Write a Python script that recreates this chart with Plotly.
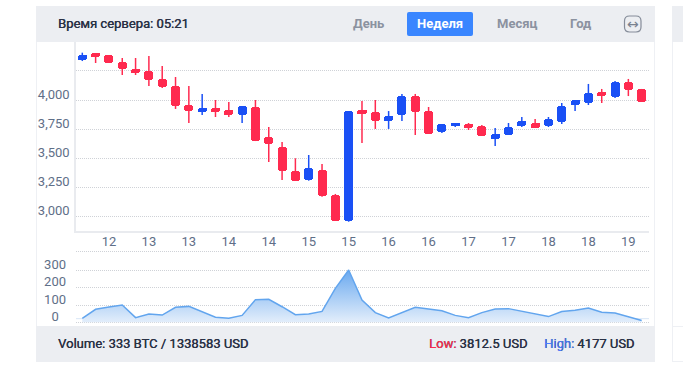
import plotly.graph_objects as go

W, H = 683, 383

# ---- data ----
opens = [4347, 4404, 4387, 4327, 4267, 4249, 4181, 4120, 3957, 3899, 3931, 3914, 3871, 3940, 3682, 3593, 3387, 3312, 3398, 3183, 2959,
         3914, 3897, 3819, 3871, 4034, 3905, 3725, 3776, 3794, 3776, 3665, 3699, 3776, 3802, 3776, 3811, 3957, 3974, 4069, 4026, 4155, 4095]
closes = [4387, 4372, 4321, 4269, 4232, 4172, 4112, 3948, 3908, 3931, 3899, 3871, 3948, 3650, 3622, 3392, 3306, 3413, 3174, 2962, 3905,
          3880, 3819, 3862, 4034, 3897, 3708, 3794, 3802, 3759, 3690, 3708, 3768, 3819, 3759, 3837, 3948, 4000, 4060, 4034, 4155, 4086, 3983]
highs = [4407, 4404, 4387, 4361, 4361, 4378, 4292, 4198, 4120, 4052, 4000, 3983, 3948, 4000, 3768, 3639, 3499, 3527, 3450, 3192, 3905,
         3991, 4000, 3905, 4052, 4052, 3940, 3794, 3802, 3802, 3785, 3759, 3802, 3854, 3837, 3854, 3974, 4000, 4138, 4095, 4163, 4181, 4095]
lows = [4335, 4318, 4321, 4215, 4215, 4120, 4103, 3923, 3802, 3871, 3854, 3854, 3802, 3647, 3467, 3312, 3306, 3306, 3168, 2962, 2953,
        3630, 3751, 3751, 3819, 3699, 3708, 3716, 3768, 3742, 3690, 3604, 3699, 3768, 3759, 3768, 3794, 3905, 3957, 3974, 4017, 4034, 3983]
volumes = [23, 75, 88, 100, 27, 48, 42, 87, 92, 62, 29, 23, 40, 131, 133, 90, 44, 48, 63, 196, 302,
           129, 56, 25, 56, 87, 77, 67, 40, 27, 56, 77, 79, 65, 50, 33, 62, 69, 83, 58, 54, 33, 10]
x_tick_idx = [2, 5, 8, 11, 14, 17, 20, 23, 26, 29, 32, 35, 38, 41]
x_tick_labels = ["12", "13", "13", "14", "14", "15", "15", "16", "16", "17", "17", "18", "18", "19"]
price_ticks = [3000, 3250, 3500, 3750, 4000, 4250]
price_labels = ["3,000", "3,250", "3,500", "3,750", "4,000", ""]
vol_ticks = [0, 100, 200, 300, 412]
vol_labels = ["0\u2007", "100", "200", "300", ""]

RED = "#ff2a4f"
BLUE = "#1a50f5"
PANEL = "#eceef2"
BORDER = "#eef0f4"
TICK = "#5f6f88"
TEXT = "#2a3145"
GREY = "#8b92a0"
FONT = "Roboto"


def px(x):
    return x / W


def py(y):
    return 1 - y / H


idx = list(range(len(opens)))
fig = go.Figure()

for color, up in ((RED, False), (BLUE, True)):
    sel = [i for i in idx if (closes[i] > opens[i]) == up]
    wx, wy = [], []
    for i in sel:
        wx += [i, i, None]
        wy += [lows[i], highs[i], None]
    fig.add_trace(go.Scatter(x=wx, y=wy, mode="lines", line=dict(color=color, width=1.5),
                             hoverinfo="skip", showlegend=False, xaxis="x", yaxis="y"))
    fig.add_trace(go.Bar(x=sel,
                         y=[abs(closes[i] - opens[i]) for i in sel],
                         base=[min(closes[i], opens[i]) for i in sel],
                         width=0.68,
                         marker=dict(color=color, line=dict(width=0), cornerradius=3),
                         showlegend=False, xaxis="x", yaxis="y"))

fig.add_trace(go.Scatter(x=idx, y=volumes, mode="lines",
                         line=dict(color="#62a5ee", width=1.5),
                         fill="tozeroy",
                         fillgradient=dict(type="vertical",
                                           colorscale=[[0, "#e3eefb"], [1, "#6aa9ef"]],
                                           start=0, stop=302),
                         showlegend=False, xaxis="x2", yaxis="y2"))

shapes = []


def rect(x0, y0, x1, y1, fill, line=None, layer="below"):
    shapes.append(dict(type="rect", xref="paper", yref="paper",
                       x0=px(x0), x1=px(x1), y0=py(y0), y1=py(y1), fillcolor=fill,
                       line=dict(color=line or fill, width=1 if line else 0), layer=layer))


def seg(x0, y0, x1, y1, color, width=1, layer="below"):
    shapes.append(dict(type="line", xref="paper", yref="paper",
                       x0=px(x0), x1=px(x1), y0=py(y0), y1=py(y1),
                       line=dict(color=color, width=width), layer=layer))


def rounded(x0, y0, x1, y1, r, fill, line=None, width=1):
    k = r
    d = (f"M {px(x0 + k)} {py(y0)} L {px(x1 - k)} {py(y0)} Q {px(x1)} {py(y0)} {px(x1)} {py(y0 + k)} "
         f"L {px(x1)} {py(y1 - k)} Q {px(x1)} {py(y1)} {px(x1 - k)} {py(y1)} "
         f"L {px(x0 + k)} {py(y1)} Q {px(x0)} {py(y1)} {px(x0)} {py(y1 - k)} "
         f"L {px(x0)} {py(y0 + k)} Q {px(x0)} {py(y0)} {px(x0 + k)} {py(y0)} Z")
    shapes.append(dict(type="path", xref="paper", yref="paper", path=d, fillcolor=fill,
                       line=dict(color=line or fill, width=width if line else 0), layer="below"))


# panels
rect(36, 6, 655, 42, PANEL)
rect(36, 326, 655, 362, PANEL)
seg(36.5, 42, 36.5, 326, BORDER)
seg(654.5, 42, 654.5, 326, BORDER)
# neighbouring panel
rect(672, 6, 690, 42, PANEL)
seg(672.5, 42, 672.5, 362, BORDER)
seg(672, 326.5, 683, 326.5, BORDER)
seg(672, 361.5, 683, 361.5, BORDER)
# active button and icon
rounded(407, 12, 473, 36, 2, "#3a86ff")
rounded(624.5, 16, 641, 32, 5, "rgba(0,0,0,0)", "#858c99", 1.2)
# volume baseline
seg(76, 318.7, 649, 318.7, "#d8e6f6")


def note(x, y, text, color=TEXT, size=13, anchor="left", weight=400, family=FONT, shadow=True):
    font = dict(family=family, size=size, color=color, weight=weight)
    if shadow:
        font["shadow"] = f"0.3px 0 0 {color}"
    return dict(xref="paper", yref="paper", x=px(x), y=py(y), text=text, showarrow=False,
                xanchor=anchor, yanchor="middle", align=anchor, borderpad=0, font=font)


annotations = [
    note(56.5, 24, "Время сервера: 05:21"),
    note(368, 24, "День", GREY, anchor="center", weight=700, shadow=False),
    note(440, 24, "Неделя", "#ffffff", anchor="center", weight=700, shadow=False),
    note(516.7, 24, "Месяц", GREY, anchor="center", weight=700, shadow=False),
    note(580.7, 24, "Год", GREY, anchor="center", weight=700, shadow=False),
    note(632.7, 24, "↔", "#7a8290", size=14, anchor="center", weight=400, family="DejaVu Sans", shadow=False),
    note(56.5, 343.5, "Volume: 333 BTC / 1338583 USD"),
    note(428, 343.5, f'<span style="color:{RED}">Low:</span> 3812.5 USD'),
    note(542.7, 343.5, '<span style="color:#4a7dff">High:</span> 4177 USD'),
]

x_range = [-0.473, 42.55]
grid = dict(showgrid=True, gridcolor="#cfd2d7", gridwidth=1, griddash="1px,1px", zeroline=False)
tickfont = dict(family=FONT, size=13, color=TICK)

fig.update_layout(
    width=W, height=H, autosize=False,
    margin=dict(l=0, r=0, t=0, b=0, pad=0),
    paper_bgcolor="#ffffff", plot_bgcolor="rgba(0,0,0,0)",
    barmode="overlay", bargap=0,
    showlegend=False,
    shapes=shapes, annotations=annotations,
    xaxis=dict(domain=[px(76), px(649)], range=x_range, anchor="y", automargin=False,
               tickmode="array", tickvals=x_tick_idx, ticktext=x_tick_labels,
               showgrid=False, zeroline=False, showline=True, linecolor="#e9ebef", linewidth=1.5,
               ticks="", tickfont=tickfont, ticklabelstandoff=-2, tickangle=0),
    yaxis=dict(domain=[py(231), py(42)], range=[2873.4, 4498.8], anchor="x", automargin=False,
               tickmode="array", tickvals=price_ticks, ticktext=price_labels,
               showline=True, linecolor="#e9ebef", linewidth=1.5,
               ticks="", tickfont=tickfont, ticklabelstandoff=2, ticklabelshift=-6, **grid),
    xaxis2=dict(domain=[px(76), px(649)], range=x_range, anchor="y2", automargin=False,
                showticklabels=False, showgrid=False, zeroline=False, ticks=""),
    yaxis2=dict(domain=[py(326), py(245)], range=[-21.4, 446.8], anchor="x2", automargin=False,
                tickmode="array", tickvals=vol_ticks, ticktext=vol_labels,
                ticks="", tickfont=tickfont, ticklabelstandoff=9, ticklabelshift=-6, **grid),
)

fig.write_html("out.html", config=dict(displayModeBar=False),
               post_script="document.body.style.margin='0';document.documentElement.style.overflow='hidden';")
